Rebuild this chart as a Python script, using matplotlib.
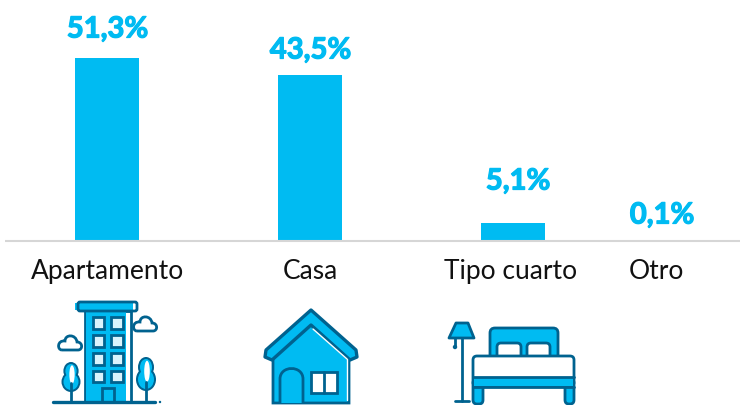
import matplotlib
matplotlib.use("Agg")
import matplotlib.pyplot as plt
import matplotlib.patheffects as pe
from matplotlib.patches import FancyBboxPatch, Polygon, Rectangle, Ellipse, Circle, PathPatch
from matplotlib.path import Path

categories = ["Apartamento", "Casa", "Tipo cuarto", "Otro"]
value_labels = ["51,3%", "43,5%", "5,1%", "0,1%"]
# Casa's bar is drawn taller than its label says in the original, so heights are kept apart
bar_heights = [51.3, 46.6, 5.1, 0.1]

CYAN = "#00BBF2"
DARK = "#00628F"

W, H = 740, 406
BASE = 242
PX_PER_UNIT = 3.56
bar_centers = [107, 310, 513, 660]
cat_centers = [107.5, 310.5, 511, 656]
val_centers = [107.5, 310.5, 518, 662]
val_tops = [30.5, 51.5, 182.5, 216.5]

fig = plt.figure(figsize=(W / 100, H / 100), dpi=100)
ax = fig.add_axes([0, 0, 1, 1])
ax.set_xlim(0, W)
ax.set_ylim(-(H - BASE) / PX_PER_UNIT, BASE / PX_PER_UNIT)
ax.axis("off")
ax.bar(bar_centers, bar_heights, width=64, color=CYAN, align="center", zorder=2)
ax.plot([5, W], [0, 0], color="#D6D6D6", lw=1.5, zorder=3, solid_capstyle="butt")

# overlay in pixel coordinates for text and the icons
px = fig.add_axes([0, 0, 1, 1])
px.set_xlim(0, W)
px.set_ylim(H, 0)
px.axis("off")
px.patch.set_alpha(0)

for x, y, t in zip(val_centers, val_tops, value_labels):
    px.text(x, y, t, color=CYAN, fontsize=21, fontweight="bold", family="Lato", ha="center", va="center",
            path_effects=[pe.withStroke(linewidth=0.9, foreground=CYAN)])
for x, t in zip(cat_centers, categories):
    px.text(x, 272, t, color="#111111", fontsize=19, family="Lato", ha="center", va="center")


def rect(x0, y0, x1, y1, fc=CYAN, ec=DARK, lw=2.0, z=3):
    px.add_patch(Rectangle((x0, y0), x1 - x0, y1 - y0, fc=fc, ec=ec, lw=lw, zorder=z))


def rrect(x0, y0, x1, y1, r=3, fc=CYAN, ec=DARK, lw=2.0, z=3):
    px.add_patch(FancyBboxPatch((x0 + r, y0 + r), x1 - x0 - 2 * r, y1 - y0 - 2 * r,
                                boxstyle="round,pad=%g,rounding_size=%g" % (r, r),
                                fc=fc, ec=ec, lw=lw, zorder=z))


def line(xs, ys, c=DARK, lw=2.0, z=5):
    px.plot(xs, ys, color=c, lw=lw, zorder=z, solid_capstyle="round", solid_joinstyle="round")


def cloud(cx, cy):
    verts = [(cx - 8, cy + 7), (cx + 8, cy + 7), (cx + 13, cy + 7), (cx + 13, cy - 1), (cx + 7, cy - 1),
             (cx + 6, cy - 9), (cx - 5, cy - 9), (cx - 5, cy - 2), (cx - 13, cy - 3), (cx - 13, cy + 7), (cx - 8, cy + 7)]
    codes = [Path.MOVETO, Path.LINETO, Path.CURVE4, Path.CURVE4, Path.CURVE4,
             Path.CURVE4, Path.CURVE4, Path.CURVE4, Path.CURVE4, Path.CURVE4, Path.CURVE4]
    px.add_patch(PathPatch(Path(verts, codes), fc="white", ec=DARK, lw=2.0, zorder=4))


def tree(cx, top, bottom, w):
    h = bottom - top
    # two lobes: dark outline first, then the inside on top of it
    for dw, c, z in [(0, DARK, 4), (-4, CYAN, 4.1)]:
        px.add_patch(Ellipse((cx, top + h * 0.3), w * 0.8 + dw, h * 0.6 + dw, fc=c, ec="none", zorder=z))
        px.add_patch(Ellipse((cx, top + h * 0.66), w + dw, h * 0.68 + dw, fc=c, ec="none", zorder=z))
    px.add_patch(Ellipse((cx + 1, top + h * 0.42), w * 0.28, h * 0.62, fc="white", ec="none", zorder=4.2))
    line([cx, cx], [bottom - 9, 403])


# apartment block
rect(75, 304, 133, 311, ec="none", lw=0)
rect(85, 312, 131, 403, fc="white")
rect(86, 313, 126, 402, ec="none", lw=0)
rrect(78, 303, 137, 312, r=2, fc="none")
for y0, y1 in [(318, 330), (336, 348), (354, 366), (372, 383)]:
    for x0, x1 in [(93, 104), (111, 123)]:
        rect(x0, y0, x1, y1, fc="#D9F3FC", z=4)
rect(102, 389, 114, 403, z=4)
line([53, 155], [403, 403], lw=2.4)
px.add_patch(Circle((160, 403), 1.2, fc=DARK, ec="none", zorder=5))
cloud(70, 344)
cloud(145, 325)
tree(71, 363, 393, 19)
tree(146, 358, 392, 20)

# house
px.add_patch(Polygon([(273, 356), (311, 322), (349, 356), (349, 404), (273, 404)], fc=CYAN, ec=DARK, lw=2.0, zorder=3))
line([346.5, 346.5], [360, 401], c="white", lw=1.0)
roof = [(311, 311), (356, 351), (357, 358), (350, 361), (311, 326), (272, 361), (265, 358), (266, 351)]
px.add_patch(Polygon(roof, closed=True, fc=CYAN, ec=DARK, lw=2.4, joinstyle="round", zorder=4))
line([313, 347], [330, 360], c="white", lw=1.0)
door = Path([(280, 404), (280, 380), (280, 366), (303, 366), (303, 380), (303, 404)],
            [Path.MOVETO, Path.LINETO, Path.CURVE4, Path.CURVE4, Path.CURVE4, Path.LINETO])
px.add_patch(PathPatch(door, fc=CYAN, ec=DARK, lw=2.0, zorder=4))
rect(311, 373, 337, 394, fc="white", z=4)
line([324, 324], [373, 394])

# lamp
px.add_patch(Polygon([(456, 324), (468, 324), (474, 339), (449, 339)], fc=CYAN, ec=DARK, lw=2.0, joinstyle="round", zorder=4))
line([462, 462], [339, 402])
line([455, 469], [402, 402])
line([455, 455], [339, 347])
px.add_patch(Circle((455, 348), 2.2, fc=DARK, ec="none", zorder=5))

# bed
rrect(490, 329, 558, 362, r=5, z=3)
rrect(497, 344, 521, 362, r=4, fc="white", z=3.5)
rrect(527, 344, 550, 362, r=4, fc="white", z=3.5)
rrect(473, 380, 483, 405, r=4, z=3)
rrect(565, 380, 574, 405, r=4, z=3)
rrect(473, 357, 574, 387.5, r=4, fc="white", z=4)
rect(474, 378, 573, 387, z=4.5, lw=0, ec="none")
line([473, 574], [378, 378], z=4.6)
line([473, 574], [387.5, 387.5], z=4.6)

fig.savefig("out.png", dpi=100)
